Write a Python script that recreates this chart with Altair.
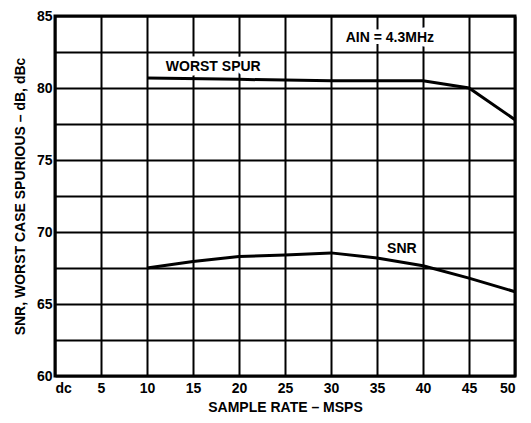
import altair as alt
import pandas as pd

# Data
spur_x = [10, 20, 30, 40, 45, 50]
spur_y = [80.7, 80.6, 80.5, 80.5, 80.0, 77.8]
snr_x = [10, 15, 20, 25, 30, 35, 40, 45, 50]
snr_y = [67.5, 67.95, 68.3, 68.4, 68.55, 68.2, 67.65, 66.8, 65.85]
x_ticks = [0, 5, 10, 15, 20, 25, 30, 35, 40, 45, 50]
y_grid = [60, 62.5, 65, 67.5, 70, 72.5, 75, 77.5, 80, 82.5, 85]
note_text = ["WORST SPUR", "AIN = 4.3MHz", "SNR"]
note_x = [17.2, 36.4, 37.7]
note_y = [81.45, 83.45, 68.85]

FONT = "Liberation Sans"
W, H = 460, 360

lines_df = pd.concat([
    pd.DataFrame({"x": spur_x, "y": spur_y, "series": "WORST SPUR"}),
    pd.DataFrame({"x": snr_x, "y": snr_y, "series": "SNR"}),
])
notes_df = pd.DataFrame({"x": note_x, "y": note_y, "t": note_text})

xscale = alt.Scale(domain=[0, 50], nice=False, zero=False)
yscale = alt.Scale(domain=[60, 85], nice=False, zero=False)

xaxis = alt.Axis(
    values=x_ticks, labelExpr="datum.value == 0 ? 'dc' : datum.label",
    grid=True, gridColor="black", gridWidth=2, gridOpacity=1,
    ticks=False, domain=False, labelPadding=5,
    labelFont=FONT, labelFontSize=14, labelFontWeight="bold", labelColor="black",
    title="SAMPLE RATE – MSPS", titleFont=FONT, titleFontSize=14,
    titleFontWeight="bold", titleColor="black",
    titleX=W / 2, titleY=31, titleBaseline="middle", titleAlign="center",
)
yaxis = alt.Axis(
    values=y_grid, labelExpr="datum.value % 5 == 0 ? datum.label : ''",
    grid=True, gridColor="black", gridWidth=2, gridOpacity=1,
    ticks=False, domain=False, labelPadding=3, labelOverlap=False,
    labelFont=FONT, labelFontSize=14, labelFontWeight="bold", labelColor="black",
    title="SNR, WORST CASE SPURIOUS – dB, dBc", titleFont=FONT, titleFontSize=14,
    titleFontWeight="bold", titleColor="black",
    titleX=-35, titleY=H / 2, titleAngle=270, titleBaseline="middle", titleAlign="center",
)

lines = alt.Chart(lines_df).mark_line(color="black", strokeWidth=3).encode(
    x=alt.X("x:Q", scale=xscale, axis=xaxis),
    y=alt.Y("y:Q", scale=yscale, axis=yaxis),
    detail="series:N",
)

halo = alt.Chart(notes_df).mark_text(
    font=FONT, fontSize=14, fontWeight="bold", color="white",
    stroke="white", strokeWidth=9, strokeJoin="round",
    align="center", baseline="middle",
).encode(
    x=alt.X("x:Q", scale=xscale, axis=xaxis),
    y=alt.Y("y:Q", scale=yscale, axis=yaxis),
    text="t:N",
)

notes = alt.Chart(notes_df).mark_text(
    font=FONT, fontSize=14, fontWeight="bold", color="black",
    align="center", baseline="middle",
).encode(
    x=alt.X("x:Q", scale=xscale, axis=xaxis),
    y=alt.Y("y:Q", scale=yscale, axis=yaxis),
    text="t:N",
)

chart = alt.layer(lines, halo, notes).properties(
    width=W, height=H,
    autosize=alt.AutoSizeParams(type="none"),
    padding={"left": 47, "top": 8, "right": 8, "bottom": 39},
    background="white",
).configure_view(stroke="black", strokeWidth=3)

chart.save("out.html", embed_options={"renderer": "svg", "actions": False})
